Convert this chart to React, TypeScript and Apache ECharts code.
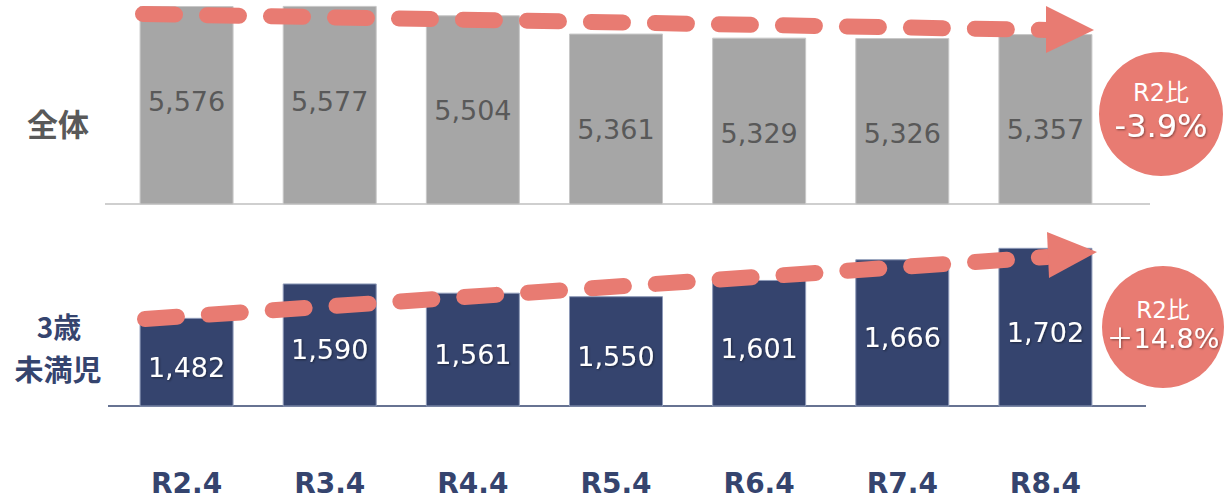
import React, { useEffect, useRef } from "react";
import * as echarts from "echarts";

const categories = ["R2.4", "R3.4", "R4.4", "R5.4", "R6.4", "R7.4", "R8.4"];
const totalValues = [5576, 5577, 5504, 5361, 5329, 5326, 5357];
const under3Values = [1482, 1590, 1561, 1550, 1601, 1666, 1702];
const rowLabelTop = "全体";
const rowLabelBottom = ["3歳", "未満児"];
const badgeTop = ["R2比", "-3.9%"];
const badgeBottom = ["R2比", "＋14.8%"];

const GRAY = "#A6A6A6";
const NAVY = "#35446E";
const SALMON = "#E87B72";
const CJK = "'Noto Sans CJK JP', sans-serif";
const LAT = "'DejaVu Sans', 'Noto Sans CJK JP', sans-serif";

export default function App() {
  const ref = useRef<HTMLDivElement>(null);
  useEffect(() => {
    if (!ref.current) return;
    const chart = echarts.init(ref.current, undefined, { renderer: "svg" });
    const fmt = (p: any) => Number(p.value).toLocaleString("en-US");
    const shadow = {
      textShadowColor: "rgba(0,0,0,0.45)",
      textShadowBlur: 2,
      textShadowOffsetX: 1,
      textShadowOffsetY: 1,
    };
    chart.setOption({
      animation: false,
      grid: [
        { left: 115, width: 1002, top: 0, height: 204 },
        { left: 115, width: 1002, top: 230, height: 176 },
      ],
      xAxis: [
        {
          type: "category",
          data: categories,
          gridIndex: 0,
          axisLine: { show: false },
          axisTick: { show: false },
          axisLabel: { show: false },
        },
        {
          type: "category",
          data: categories,
          gridIndex: 1,
          axisLine: { show: false },
          axisTick: { show: false },
          axisLabel: {
            show: true,
            margin: 63,
            color: NAVY,
            fontSize: 28,
            fontWeight: 600,
            fontFamily: LAT,
          },
        },
      ],
      yAxis: [
        { type: "value", gridIndex: 0, min: 4030, max: 5623, show: false },
        { type: "value", gridIndex: 1, min: 1205, max: 1758, show: false },
      ],
      series: [
        {
          type: "bar",
          xAxisIndex: 0,
          yAxisIndex: 0,
          data: totalValues,
          barWidth: 94,
          itemStyle: { color: GRAY, borderColor: "#C8C8C8", borderWidth: 1 },
          label: {
            show: true,
            position: "insideTop",
            distance: 82,
            formatter: fmt,
            color: "#595959",
            fontSize: 27,
            fontFamily: LAT,
          },
          z: 2,
        },
        {
          type: "bar",
          xAxisIndex: 1,
          yAxisIndex: 1,
          data: under3Values,
          barWidth: 94,
          itemStyle: { color: NAVY, borderColor: "#8E9AB8", borderWidth: 1 },
          label: {
            show: true,
            position: "inside",
            offset: [0, 5],
            formatter: fmt,
            color: "#FFFFFF",
            fontSize: 27,
            fontFamily: LAT,
            ...shadow,
          },
          z: 2,
        },
      ],
      graphic: [
        {
          type: "line",
          shape: { x1: 105, y1: 204, x2: 1150, y2: 204 },
          style: { stroke: "#BFBFBF", lineWidth: 1.5 },
          z: 1,
        },
        {
          type: "line",
          shape: { x1: 108, y1: 406, x2: 1146, y2: 406 },
          style: { stroke: NAVY, lineWidth: 1.5 },
          z: 1,
        },
        {
          type: "text",
          style: {
            text: rowLabelTop,
            x: 58,
            y: 122,
            align: "center",
            verticalAlign: "middle",
            fill: "#595959",
            font: `bold 31px ${CJK}`,
          },
        },
        {
          type: "text",
          style: {
            text: rowLabelBottom[0],
            x: 59,
            y: 326,
            align: "center",
            verticalAlign: "middle",
            fill: NAVY,
            font: `bold 28px ${CJK}`,
            lineHeight: 28,
          },
        },
        {
          type: "text",
          style: {
            text: rowLabelBottom[1],
            x: 58,
            y: 368,
            align: "center",
            verticalAlign: "middle",
            fill: NAVY,
            font: `bold 29px ${CJK}`,
            lineHeight: 29,
          },
        },
        {
          type: "line",
          shape: { x1: 143, y1: 14, x2: 1047, y2: 30 },
          style: { stroke: SALMON, lineWidth: 16, lineDash: [32, 32], lineCap: "round" },
          z: 10,
        },
        {
          type: "polygon",
          shape: { points: [[1046, 6], [1094, 30], [1046, 53]] },
          style: { fill: SALMON },
          z: 10,
        },
        {
          type: "line",
          shape: { x1: 145, y1: 319, x2: 1047, y2: 257 },
          style: { stroke: SALMON, lineWidth: 16, lineDash: [32, 32], lineCap: "round" },
          z: 10,
        },
        {
          type: "polygon",
          shape: { points: [[1047, 232], [1097, 252], [1049, 278]] },
          style: { fill: SALMON },
          z: 10,
        },
        {
          type: "circle",
          shape: { cx: 1161, cy: 114, r: 62 },
          style: { fill: SALMON },
          z: 10,
        },
        {
          type: "text",
          style: {
            text: badgeTop[0],
            x: 1161,
            y: 93,
            align: "center",
            verticalAlign: "middle",
            fill: "#FFFFFF",
            font: `24px ${LAT}`,
          },
          z: 11,
        },
        {
          type: "text",
          style: {
            text: badgeTop[1],
            x: 1161,
            y: 126,
            align: "center",
            verticalAlign: "middle",
            fill: "#FFFFFF",
            font: `32px ${LAT}`,
            ...shadow,
          },
          z: 11,
        },
        {
          type: "circle",
          shape: { cx: 1163, cy: 327, r: 61 },
          style: { fill: SALMON },
          z: 10,
        },
        {
          type: "text",
          style: {
            text: badgeBottom[0],
            x: 1163,
            y: 310,
            align: "center",
            verticalAlign: "middle",
            fill: "#FFFFFF",
            font: `23px ${LAT}`,
          },
          z: 11,
        },
        {
          type: "text",
          style: {
            text: badgeBottom[1],
            x: 1163,
            y: 338,
            align: "center",
            verticalAlign: "middle",
            fill: "#FFFFFF",
            font: `27px ${LAT}`,
            ...shadow,
          },
          z: 11,
        },
      ],
    });
    return () => chart.dispose();
  }, []);
  return (
    <div
      ref={ref}
      style={{ position: "fixed", left: 0, top: 0, width: 1225, height: 501, background: "#fff" }}
    />
  );
}
